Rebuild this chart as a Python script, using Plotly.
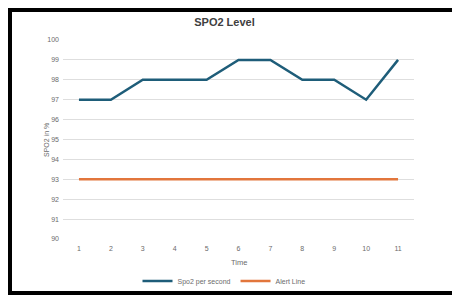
import plotly.graph_objects as go

time_labels = ["1", "2", "3", "4", "5", "6", "7", "8", "9", "10", "11"]
spo2_values = [97, 97, 98, 98, 98, 99, 99, 98, 98, 97, 99]
alert_values = [93, 93, 93, 93, 93, 93, 93, 93, 93, 93, 93]

# figure sized to fit inside the page's default 8px body margin (page 460x303)
W, H = 452, 287
L, R, T, B = 55, 46, 32, 56
pw, ph = W - L - R, H - T - B

def px(x):
    return (x - L) / pw

def py(y):
    return (H - B - y) / ph

fig = go.Figure()
fig.add_trace(go.Scatter(x=time_labels, y=spo2_values, mode="lines", name="Spo2 per second",
                         line=dict(color="#1E5D79", width=2.5)))
fig.add_trace(go.Scatter(x=time_labels, y=alert_values, mode="lines", name="Alert Line",
                         line=dict(color="#E2763C", width=2.5)))

font = "Liberation Sans, Arial, sans-serif"
grey = "#6b6b6b"
fig.update_layout(
    width=W, height=H,
    margin=dict(l=L, r=R, t=T, b=B, autoexpand=False),
    paper_bgcolor="white", plot_bgcolor="white",
    font=dict(family=font, size=7, color=grey),
    title=dict(text="<b>SPO2 Level</b>", x=px(216.5), xref="paper", xanchor="center",
               y=1 - 14.5 / H, yref="container", yanchor="middle",
               font=dict(size=11, color="#404040", family=font)),
    xaxis=dict(type="category", range=[-0.5, 10.5], showgrid=False, showline=False,
               zeroline=False, ticks="", ticklabelstandoff=4,
               tickfont=dict(size=7, color=grey)),
    yaxis=dict(range=[90, 100], dtick=1, showgrid=True, gridcolor="#DEDEDE", gridwidth=1,
               zeroline=False, showline=False, ticks="", ticklabelstandoff=3,
               tickfont=dict(size=7, color=grey)),
    legend=dict(orientation="h", x=px(216), xanchor="center", y=py(273), yanchor="middle",
                font=dict(size=7, color=grey), bgcolor="rgba(0,0,0,0)"),
    showlegend=True,
)

fig.add_annotation(text="SPO2 in %", x=px(38), y=py(132), xref="paper", yref="paper",
                   xanchor="center", yanchor="middle",
                   textangle=-90, showarrow=False, font=dict(size=7, color=grey))
fig.add_annotation(text="Time", x=px(231), y=py(254), xref="paper", yref="paper",
                   xanchor="center", yanchor="middle",
                   showarrow=False, font=dict(size=7.5, color=grey))

fig.add_shape(type="rect", xref="paper", yref="paper",
              x0=px(2), x1=px(446.5), y0=py(285), y1=py(2),
              line=dict(color="black", width=4), fillcolor="rgba(0,0,0,0)", layer="above")

fig.write_html("out.html")
